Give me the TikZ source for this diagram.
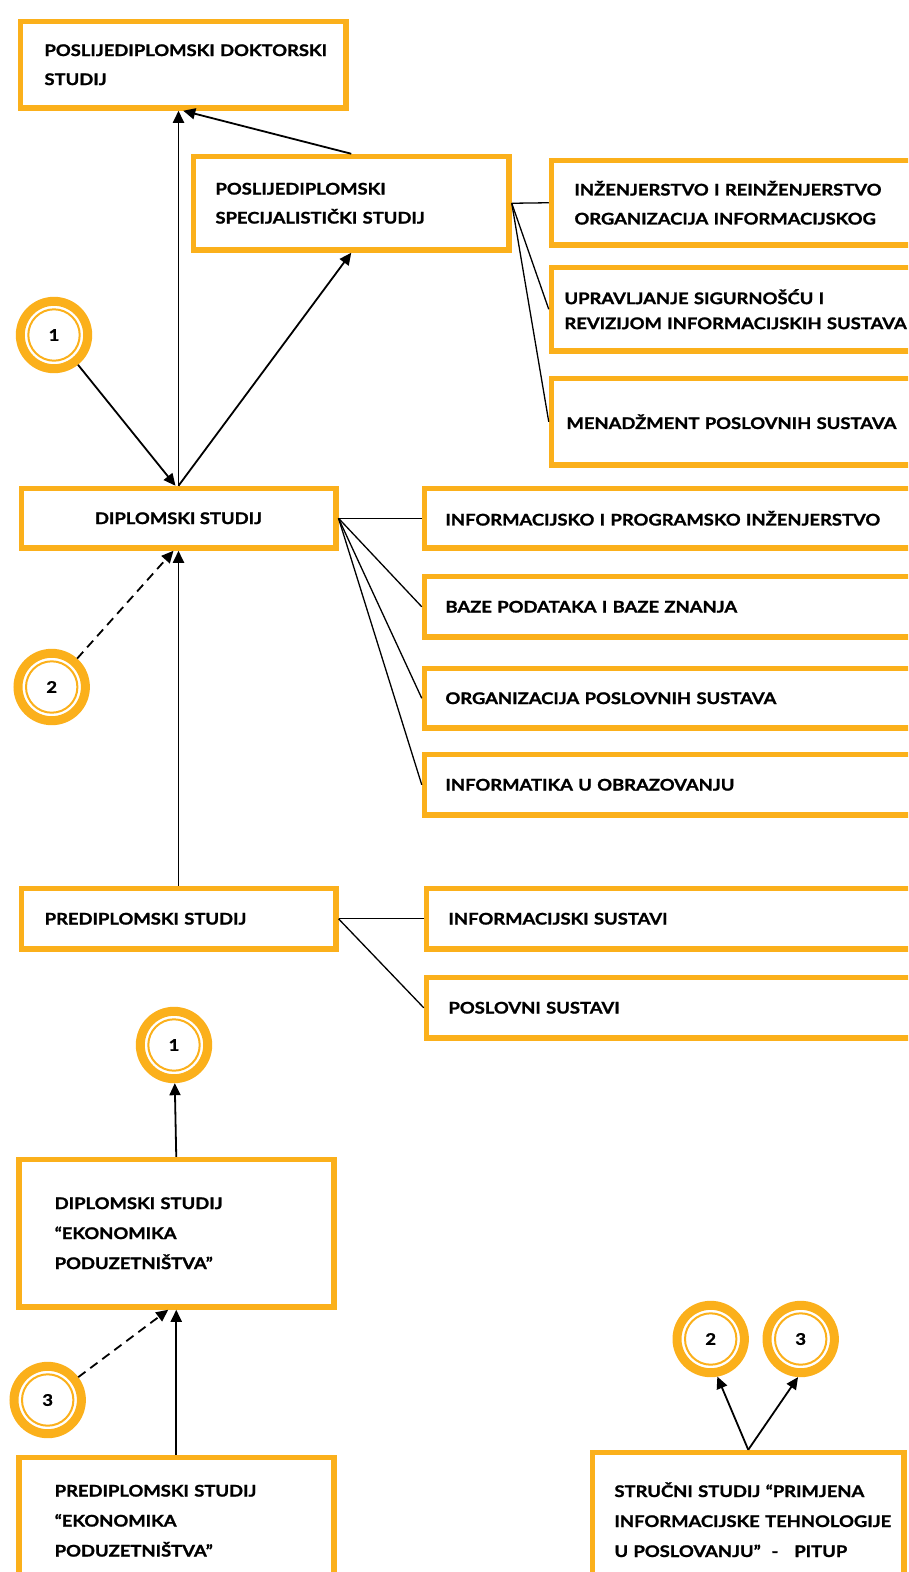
\documentclass[tikz,border=0pt]{standalone}
\usepackage{fontspec}
\setmainfont{Lato}[BoldFeatures={FakeStretch=1.15,FakeBold=1.3}]
\usetikzlibrary{arrows.meta}
\definecolor{zuta}{RGB}{251,176,27}

\begin{document}
\begin{tikzpicture}[
        x=1pt, y=-1pt,
        kutija/.style={draw=zuta, line width=5.5pt, rectangle, anchor=north west,
            align=left, font=\bfseries\fontsize{16}{29}\selectfont},
        krug/.style={draw=zuta, line width=9pt, circle, minimum size=67.4pt,
            inner sep=0pt, font=\bfseries\fontsize{16}{19}\selectfont},
        strelica/.style={-{Triangle[length=12pt,width=11pt]}, line width=1.8pt},
        isprekidana/.style={strelica, dash pattern=on 9pt off 6pt},
        grana/.style={line width=1.3pt}
    ]
        \useasboundingbox (0,0) rectangle (908,1572);
        \clip (0,0) rectangle (908,1572);

        \node[kutija, minimum width=325.5pt, minimum height=86.5pt, inner xsep=24pt,
            text width=277.5pt] (dokt) at (17.75,18.75)
            {\mbox{POSLIJEDIPLOMSKI DOKTORSKI}\\STUDIJ};
        \node[kutija, minimum width=315.5pt, minimum height=93.5pt, inner xsep=22pt,
            text width=271.5pt] (spec) at (190.75,153.75)
            {POSLIJEDIPLOMSKI\\\mbox{SPECIJALISTIČKI STUDIJ}};
        \node[kutija, minimum width=378.5pt, minimum height=84.5pt, inner xsep=23pt,
            text width=332.5pt] (inz) at (548.75,157.75)
            {\mbox{INŽENJERSTVO I REINŽENJERSTVO}\\\mbox{ORGANIZACIJA INFORMACIJSKOG}};
        \node[kutija, minimum width=378.5pt, minimum height=83.5pt, inner xsep=13pt,
            text width=352.5pt, font=\bfseries\fontsize{16}{25}\selectfont] (uprav) at (548.75,264.75)
            {\mbox{UPRAVLJANJE SIGURNOŠĆU I}\\\mbox{REVIZIJOM INFORMACIJSKIH SUSTAVA}};
        \node[kutija, minimum width=378.5pt, minimum height=86.5pt, inner xsep=15pt,
            text width=348.5pt] (menad) at (548.75,375.75)
            {\mbox{MENADŽMENT POSLOVNIH SUSTAVA}};

        \node[kutija, minimum width=314.5pt, minimum height=59.5pt, align=center]
            (dipl) at (18.5,485.75) {DIPLOMSKI STUDIJ};
        \node[kutija, minimum width=502.5pt, minimum height=59.5pt, inner xsep=21pt,
            text width=460.5pt] (infprog) at (421.75,485.75)
            {INFORMACIJSKO I PROGRAMSKO INŽENJERSTVO};
        \node[kutija, minimum width=502.5pt, minimum height=60.5pt, inner xsep=21pt,
            text width=460.5pt] (baze) at (421.75,573.75)
            {BAZE PODATAKA I BAZE ZNANJA};
        \node[kutija, minimum width=502.5pt, minimum height=59.5pt, inner xsep=21pt,
            text width=460.5pt] (org) at (421.75,665.75)
            {ORGANIZACIJA POSLOVNIH SUSTAVA};
        \node[kutija, minimum width=502.5pt, minimum height=60.5pt, inner xsep=21pt,
            text width=460.5pt] (infobr) at (421.75,751.75)
            {INFORMATIKA U OBRAZOVANJU};

        \node[kutija, minimum width=314.5pt, minimum height=60.5pt, inner xsep=23.5pt,
            text width=267.5pt] (pred) at (18.5,885.75) {PREDIPLOMSKI STUDIJ};
        \node[kutija, minimum width=500.5pt, minimum height=60.5pt, inner xsep=22pt,
            text width=456.5pt] (infsus) at (423.75,885.75) {INFORMACIJSKI SUSTAVI};
        \node[kutija, minimum width=500.5pt, minimum height=60.5pt, inner xsep=22pt,
            text width=456.5pt] (poslsus) at (423.75,974.75) {POSLOVNI SUSTAVI};

        \node[kutija, minimum width=315pt, minimum height=147.5pt, inner xsep=36pt,
            text width=243pt, font=\bfseries\fontsize{16}{30}\selectfont] (diplep) at (16,1156.75)
            {DIPLOMSKI STUDIJ\\“EKONOMIKA\\PODUZETNIŠTVA”};
        \node[kutija, minimum width=315pt, minimum height=126.5pt, inner xsep=36pt,
            text width=243pt, font=\bfseries\fontsize{16}{30}\selectfont] (predep) at (16,1454.75)
            {\mbox{PREDIPLOMSKI STUDIJ}\\“EKONOMIKA\\PODUZETNIŠTVA”};
        \node[kutija, minimum width=311.5pt, minimum height=134.5pt, inner xsep=22pt,
            text width=267.5pt, font=\bfseries\fontsize{16}{30}\selectfont] (strucni) at (589.75,1449.75)
            {\mbox{STRUČNI STUDIJ “PRIMJENA}\\\mbox{INFORMACIJSKE TEHNOLOGIJE}\\\mbox{U POSLOVANJU”~~-~~~PITUP}};

        \node[krug] (k1a) at (54,335) {1};
        \node[krug] (k2a) at (51.7,687) {2};
        \node[krug] (k1b) at (174,1045) {1};
        \node[krug] (k3a) at (47.7,1400) {3};
        \node[krug] (k2b) at (710.7,1339) {2};
        \node[krug] (k3b) at (800.7,1339) {3};
        \foreach \k in {k1a,k2a,k1b,k3a,k2b,k3b}
            \draw[zuta, line width=2pt] (\k) circle[radius=25.7pt];

        \draw[strelica] (dipl.north) -- (dipl.north |- dokt.south);
        \draw[strelica] (spec.north) -- (dokt.south);
        \draw[strelica] (dipl.north) -- (spec.south);
        \draw[strelica] (k1a) -- ([xshift=-3pt]dipl.north);
        \draw[isprekidana] (k2a) -- ([xshift=-5pt]dipl.south);
        \draw[strelica] (pred.north) -- (dipl.south);
        \foreach \c in {inz,uprav,menad}
            \draw[grana] (spec.east) -- (\c.west);
        \foreach \c in {infprog,baze,org,infobr}
            \draw[grana] (dipl.east) -- (\c.west);
        \foreach \c in {infsus,poslsus}
            \draw[grana] (pred.east) -- (\c.west);

        \draw[strelica] (diplep.north) -- (k1b);
        \draw[isprekidana] (k3a) -- ([xshift=-8pt]diplep.south);
        \draw[strelica] (predep.north) -- (diplep.south);
        \draw[strelica] (strucni.north) -- (k2b.280);
        \draw[strelica] (strucni.north) -- (k3b.266);
    \end{tikzpicture}
\end{document}
